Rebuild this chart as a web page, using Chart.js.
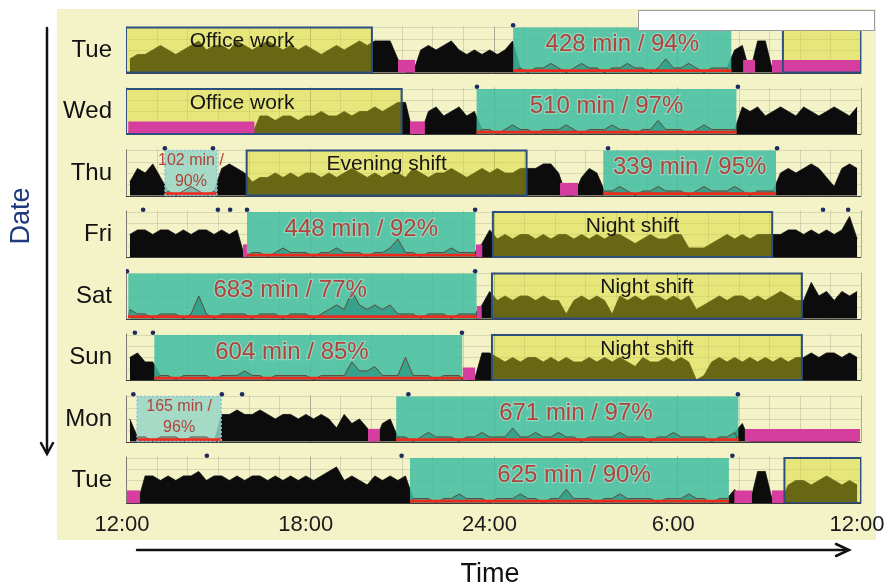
<!DOCTYPE html>
<html>
<head>
<meta charset="utf-8">
<script src="https://cdn.jsdelivr.net/npm/chart.js@4.4.1/dist/chart.umd.min.js"></script>
<style>
  html, body { margin: 0; padding: 0; background: #ffffff; }
  #wrap { position: relative; width: 884px; height: 587px; }
</style>
</head>
<body>
<div id="wrap"><canvas id="actogram" width="884" height="587"></canvas></div>
<script>
// Day rows, top to bottom
const days = ['Tue', 'Wed', 'Thu', 'Fri', 'Sat', 'Sun', 'Mon', 'Tue'];

// Time axis: hours after 12:00 noon
const timeTicks = [0, 6, 12, 18, 24];
const timeLabels = ['12:00', '18:00', '24:00', '6:00', '12:00'];

// Activity level per 15-minute bin (0 = none, 10 = full row height)
const actTue1 = [3,4,4,5,6,5,4,5,6,7,5,6,6,5,7,6,5,6,7,6,5,6,5,6,5,4,5,6,5,6,7,6,
  7,7,7,3, 0,0, 5,6,5,6,7,5,4,5,4,5,4,5,7,
  1,0,1,1,2,1,0,1,2,1,1,0,1,1,2,1,1,0,1,3,1,1,2,1,0,1,1,1,
  5,6, 0, 7,7, 0,0,0,0,0,0,0,0,0,0,0,0];
const actWed = [0,0,0,0,0,0,0,0,0,0,0,0,0,0,0,0,0,
  4,4,3,4,4,3,4,4,5,4,4,5,4,5,5,6,5,6,7, 7, 0,0, 5,6,4,5,6,4,5,
  1,1,0,1,2,1,1,0,1,1,1,2,1,0,1,1,1,2,1,1,0,1,1,3,1,1,1,0,1,2,1,1,1,1,
  6,5,6,4,5,6,5,4,6,5,4,5,6,5,4,6];
const actThu = [3,6,5,7,4, 1,0,1,2,1,0,1, 6,7,6,5,
  3,4,4,5,4,5,4,5,5,4,5,4,5,6,5,4,5,4,5,5,4,6,5,4,5,5,6,5,4,5,6,5,6,5,5,6,
  6,6,7,7,5, 0,0, 4,6,5,
  1,1,2,1,0,1,1,2,1,1,1,0,1,2,1,1,1,2,1,0,1,1,1,
  5,6,5,6,7,6,4,2,6,7,6];
const actFri = [5,6,6,5,6,6,5,6,5,6,6,5,6,5,6, 0,
  1,1,0,1,2,1,1,1,0,1,1,2,1,1,1,0,1,1,2,4,1,1,0,1,1,1,2,1,1,1,
  3,6,
  4,5,4,5,5,4,5,4,5,5,4,5,4,5,4,5,5,4,3,4,5,4,4,5,5,2,2,2,3,4,5,4,5,4,5,5,
  5,5,6,6,5,6,5,6,5,6,9,4];
const actSat = [2,1,1,0,1,1,1,0,1, 5, 1,0,1,1,1,1,0,1,1,1,0,1,1,1,0,1,
  2,3,2,6,3,2,3,2,3, 1,1,1,0,1,1,1,0,1,1,1,
  3,6,
  4,5,4,5,5,4,5,4,4,1,4,5,4,5,4,1,5,4,5,4,5,5,4,5,4,5,2,3,4,5,4,5,5,4,5,4,5,6,5,4,
  4,8,5,6,4,6,5,6];
const actSun = [5,6,4,4,
  1,1,0,1,1,1,1,0,1,1,1,2,1,1,0,1,1,1,1,1,0,1,1,1,1,4,2,2,3,1,1,1,5,1,1,1,0,1,1,1,
  0,0, 6,6,
  5,4,5,4,5,5,4,5,4,5,4,4,5,4,5,4,5,4,3,5,4,4,5,4,5,4,0,1,4,5,4,5,4,5,4,5,4,5,4,5,
  5,6,5,6,6,5,6,5];
const actMon = [5, 1,1,0,1,1,1,0,1,1,1,0,
  6,6,7,6,6,7,6,5,6,6,5,6,5,6,5,3,6,4,5,3,
  0, 4,5,
  1,1,0,1,2,1,1,1,0,1,1,2,1,1,1,3,1,1,2,1,1,2,1,1,0,1,1,1,1,2,1,1,1,0,1,1,2,1,1,1,1,0,1,1,2,
  4, 0,0,0,0,0,0,0,0,0,0,0,0,0,0,0];
const actTue2 = [0,0,
  6,6,5,6,5,6,6,7,5,6,6,5,6,5,6,6,5,6,5,6,5,6,5,6,7,8,5,6,5,4,6,5,6,5,6,
  1,1,1,0,1,1,2,1,1,1,0,1,1,1,2,1,1,0,1,1,3,1,1,1,0,1,1,2,1,1,1,1,0,1,1,1,2,1,1,0,1,1,
  3, 0,0, 7,7, 0,0,
  4,5,5,4,5,6,5,4,5,4];
const activity = [actTue1, actWed, actThu, actFri, actSat, actSun, actMon, actTue2];

// Work periods: [row, start hour, end hour, label, label hour]
const workPeriods = [
  [0, 0, 8.03, 'Office work', 3.79],
  [0, 21.45, 24, ''],
  [1, 0, 9.0, 'Office work', 3.79],
  [2, 3.94, 13.08, 'Evening shift'],
  [3, 11.98, 21.1, 'Night shift'],
  [4, 11.95, 22.07, 'Night shift'],
  [5, 11.95, 22.07, 'Night shift'],
  [7, 21.5, 24, '']
];

// Main sleep periods: [row, start hour, minutes, sleep efficiency %, label hour]
const sleepPeriods = [
  [0, 12.64, 428, 94],
  [1, 11.44, 510, 97],
  [2, 15.58, 339, 95],
  [3, 3.95, 448, 92],
  [4, 0.07, 683, 77, 5.36],
  [5, 0.92, 604, 85, 5.42],
  [6, 8.82, 671, 97, 14.69],
  [7, 9.27, 625, 90, 14.63]
];

// Naps: [row, start hour, minutes, sleep efficiency %]
const napPeriods = [
  [2, 1.27, 102, 90],
  [6, 0.36, 165, 96]
];

// Off-wrist intervals: [row, start hour, end hour]
const offWrist = [
  [0, 8.88, 9.44], [0, 20.15, 20.54], [0, 21.09, 24.0],
  [1, 0.07, 4.2], [1, 9.27, 9.76],
  [2, 14.17, 14.76],
  [3, 3.82, 3.95], [3, 11.42, 11.64],
  [4, 11.45, 11.62],
  [5, 10.99, 11.40],
  [6, 7.9, 8.29], [6, 20.2, 23.97],
  [7, 0.03, 0.46], [7, 19.86, 20.44], [7, 21.09, 21.52]
];

// Event marker presses: [row, hour]
const eventMarks = [
  [0, 12.64], [1, 11.46], [1, 19.98],
  [2, 1.27], [2, 2.84], [2, 15.74], [2, 21.26],
  [3, 0.56], [3, 3.0], [3, 3.4], [3, 3.95], [3, 11.4], [3, 22.76], [3, 23.58],
  [4, 0.03], [4, 11.4],
  [5, 0.29], [5, 0.88], [5, 10.97],
  [6, 0.24], [6, 3.13], [6, 3.79], [6, 9.22], [6, 19.98],
  [7, 2.64], [7, 9.0], [7, 19.8]
];

// ---- row geometry in y-axis units ----
const ROW_PITCH = 10, ROW_H = 7.33, BIN = 0.25, PINK_H = 2.05;
const base = r => (days.length - 1 - r) * ROW_PITCH;
const lvl = (r, v) => base(r) + v * ROW_H / 10;
const FONT = '"Liberation Sans", Arial, Helvetica, sans-serif';

Chart.defaults.font.family = FONT;

const rect = (r, s, e, y0, y1, color, order) => ({
  data: [{ x: s, y: y1 }, { x: e, y: y1 }],
  fill: { value: y0 }, backgroundColor: color,
  borderWidth: 0, pointRadius: 0, order
});
const outline = (r, s, e, color, width, dash, order) => {
  const b = base(r), t = base(r) + ROW_H;
  return {
    data: [{ x: s, y: b }, { x: s, y: t }, { x: e, y: t }, { x: e, y: b }, { x: s, y: b }],
    fill: false, borderColor: color, borderWidth: width, borderDash: dash,
    borderJoinStyle: 'miter', pointRadius: 0, order
  };
};
// activity inside a sleep period: thin dark trace over a red baseline
const sleepTrace = (r, s, e) => {
  const pts = [{ x: s, y: base(r) }];
  activity[r].forEach((v, i) => {
    const c = (i + 0.5) * BIN;
    if (c > s && c < e) pts.push({ x: c, y: lvl(r, v) });
  });
  pts.push({ x: e, y: base(r) });
  return { data: pts, fill: false, borderColor: 'rgba(110,45,30,0.75)',
    borderWidth: 1, pointRadius: 0, order: 41 };
};
const redBase = (r, s, e) => ({
  data: [{ x: s, y: base(r) + 0.3 }, { x: e, y: base(r) + 0.3 }],
  fill: false, borderColor: '#ee2a1c', borderWidth: 2.8, pointRadius: 0, order: 40
});

const datasets = [];
// activity traces (black); translucent period boxes tint them
activity.forEach((arr, r) => datasets.push({
  data: arr.map((v, i) => ({ x: (i + 0.5) * BIN, y: lvl(r, v) })),
  fill: { value: base(r) }, backgroundColor: '#0c0c0c',
  borderColor: '#0c0c0c', borderWidth: 0.8, pointRadius: 0, order: 60
}));
workPeriods.forEach(([r, s, e]) => {
  datasets.push(rect(r, s, e, base(r), base(r) + ROW_H, 'rgba(215,215,30,0.45)', 50));
  datasets.push(outline(r, s, e, '#2c4f80', 2, [], 20));
});
sleepPeriods.forEach(([r, s, min]) => {
  const e = s + min / 60;
  datasets.push(rect(r, s, e, base(r), base(r) + ROW_H, 'rgba(64,189,162,0.85)', 50));
  datasets.push(sleepTrace(r, s, e));
  datasets.push(redBase(r, s, e));
});
napPeriods.forEach(([r, s, min]) => {
  const e = s + min / 60;
  datasets.push(rect(r, s, e, base(r), base(r) + ROW_H, 'rgba(150,214,198,0.85)', 50));
  datasets.push(outline(r, s, e, '#86c4de', 1.5, [2, 2], 20));
  datasets.push(sleepTrace(r, s, e));
  datasets.push(redBase(r, s, e));
});
offWrist.forEach(([r, s, e]) => datasets.push(rect(r, s, e, base(r), base(r) + PINK_H, '#d53e9f', 30)));
datasets.push({
  data: eventMarks.map(([r, h]) => ({ x: h, y: base(r) + ROW_H + 0.35 })),
  showLine: false, pointRadius: 2.3, pointBackgroundColor: '#1d2b5e',
  pointBorderWidth: 0, order: 10
});

// pale panel behind the whole figure
const panel = {
  id: 'panel',
  beforeDraw(chart) {
    const { ctx } = chart;
    ctx.save();
    ctx.fillStyle = '#f4f2c7';
    ctx.fillRect(57, 9, 819, 531);
    ctx.restore();
  }
};

// light hour grid inside each day row
const rowGrid = {
  id: 'rowGrid',
  beforeDatasetsDraw(chart) {
    const { ctx, scales: { x, y } } = chart;
    ctx.save();
    ctx.lineWidth = 1;
    days.forEach((d, r) => {
      const yb = Math.round(y.getPixelForValue(base(r))) + 0.5;
      const yt = Math.round(y.getPixelForValue(base(r) + ROW_H + 0.3)) + 0.5;
      for (let h = 1; h <= 24; h++) {
        const px = Math.round(x.getPixelForValue(h)) + 0.5;
        ctx.strokeStyle = h % 6 === 0 ? 'rgba(110,115,100,0.55)' : 'rgba(150,160,140,0.35)';
        ctx.beginPath(); ctx.moveTo(px, yt); ctx.lineTo(px, yb); ctx.stroke();
      }
      ctx.strokeStyle = 'rgba(150,160,140,0.3)';
      [0.25, 0.5, 0.75, 1.0].forEach(f => {
        const py = Math.round(y.getPixelForValue(base(r) + f * ROW_H)) + 0.5;
        ctx.beginPath(); ctx.moveTo(x.left, py); ctx.lineTo(x.right, py); ctx.stroke();
      });
      ctx.strokeStyle = '#7a7a72';
      const lx = Math.round(x.getPixelForValue(0)) + 0.5;
      ctx.beginPath(); ctx.moveTo(lx, yt); ctx.lineTo(lx, yb); ctx.stroke();
      ctx.strokeStyle = '#3c3c3c';
      ctx.beginPath(); ctx.moveTo(x.left, yb); ctx.lineTo(x.right, yb); ctx.stroke();
    });
    ctx.restore();
  }
};

// period labels
const boxLabels = {
  id: 'boxLabels',
  afterDatasetsDraw(chart) {
    const { ctx, scales: { x, y } } = chart;
    ctx.save();
    ctx.textAlign = 'center';
    ctx.textBaseline = 'middle';
    workPeriods.forEach(([r, s, e, label, at]) => {
      if (!label) return;
      const top = y.getPixelForValue(base(r) + ROW_H);
      ctx.font = '21px ' + FONT;
      ctx.fillStyle = '#161616';
      ctx.fillText(label, x.getPixelForValue(at ?? (s + e) / 2), top + 14);
    });
    sleepPeriods.forEach(([r, s, min, pct, at]) => {
      const top = y.getPixelForValue(base(r) + ROW_H);
      const cx = x.getPixelForValue(at ?? s + min / 120);
      const txt = `${min} min / ${pct}%`;
      ctx.font = '24px ' + FONT;
      ctx.lineWidth = 2.5;
      ctx.strokeStyle = 'rgba(235,245,235,0.35)';
      ctx.strokeText(txt, cx, top + 17);
      ctx.fillStyle = '#b0443b';
      ctx.fillText(txt, cx, top + 17);
    });
    napPeriods.forEach(([r, s, min, pct]) => {
      const top = y.getPixelForValue(base(r) + ROW_H);
      const cx = x.getPixelForValue(s + min / 120);
      ctx.font = '16px ' + FONT;
      ctx.fillStyle = '#b0443b';
      ctx.fillText(`${min} min /`, cx, top + 10);
      ctx.fillText(`${pct}%`, cx, top + 31);
    });
    ctx.restore();
  }
};

// axis arrows, axis titles and the blank box at the top
const frame = {
  id: 'frame',
  afterDraw(chart) {
    const { ctx } = chart;
    ctx.save();
    ctx.fillStyle = '#ffffff';
    ctx.fillRect(638, 10, 237, 20);
    ctx.strokeStyle = '#9b9b9b';
    ctx.lineWidth = 1;
    ctx.strokeRect(638.5, 10.5, 236, 20);

    ctx.strokeStyle = '#111111';
    ctx.lineWidth = 2.5;
    ctx.lineCap = 'round';
    ctx.beginPath(); ctx.moveTo(47, 28); ctx.lineTo(47, 453); ctx.stroke();
    ctx.beginPath(); ctx.moveTo(41, 443); ctx.lineTo(47, 454); ctx.lineTo(53, 443); ctx.stroke();
    ctx.beginPath(); ctx.moveTo(137, 550); ctx.lineTo(848, 550); ctx.stroke();
    ctx.beginPath(); ctx.moveTo(836, 544); ctx.lineTo(849, 550); ctx.lineTo(836, 556); ctx.stroke();

    ctx.textAlign = 'center';
    ctx.textBaseline = 'middle';
    ctx.font = '27px ' + FONT;
    ctx.fillStyle = '#111111';
    ctx.fillText('Time', 490, 575);
    ctx.translate(22, 216);
    ctx.rotate(-Math.PI / 2);
    ctx.fillStyle = '#1f3b7d';
    ctx.fillText('Date', 0, 0);
    ctx.restore();
  }
};

new Chart(document.getElementById('actogram'), {
  type: 'line',
  data: { datasets },
  options: {
    responsive: false,
    animation: false,
    events: [],
    layout: { padding: { left: 0, right: 23, top: 11, bottom: 0 } },
    plugins: { legend: { display: false }, tooltip: { enabled: false } },
    scales: {
      x: {
        type: 'linear', min: 0, max: 24,
        grid: { display: false, drawTicks: false },
        border: { display: false },
        afterBuildTicks: s => { s.ticks = timeTicks.map(v => ({ value: v })); },
        afterFit: s => { s.height = 84; s.paddingLeft = 0; s.paddingRight = 0; },
        ticks: {
          autoSkip: false, maxRotation: 0, padding: 9, labelOffset: -4,
          color: '#1b1b1b', font: { size: 22 },
          callback: (v, i) => timeLabels[i]
        }
      },
      y: {
        type: 'linear', min: 0, max: 80,
        grid: { display: false, drawTicks: false },
        border: { display: false },
        afterBuildTicks: s => { s.ticks = days.map((d, r) => ({ value: base(r) + ROW_H / 2 })); },
        afterFit: s => { s.width = 126; s.paddingTop = 0; s.paddingBottom = 0; },
        ticks: {
          autoSkip: false, padding: 14, color: '#111111', font: { size: 24 },
          callback: v => days[days.length - 1 - Math.round((v - ROW_H / 2) / ROW_PITCH)]
        }
      }
    }
  },
  plugins: [panel, rowGrid, boxLabels, frame]
});
</script>
</body>
</html>
